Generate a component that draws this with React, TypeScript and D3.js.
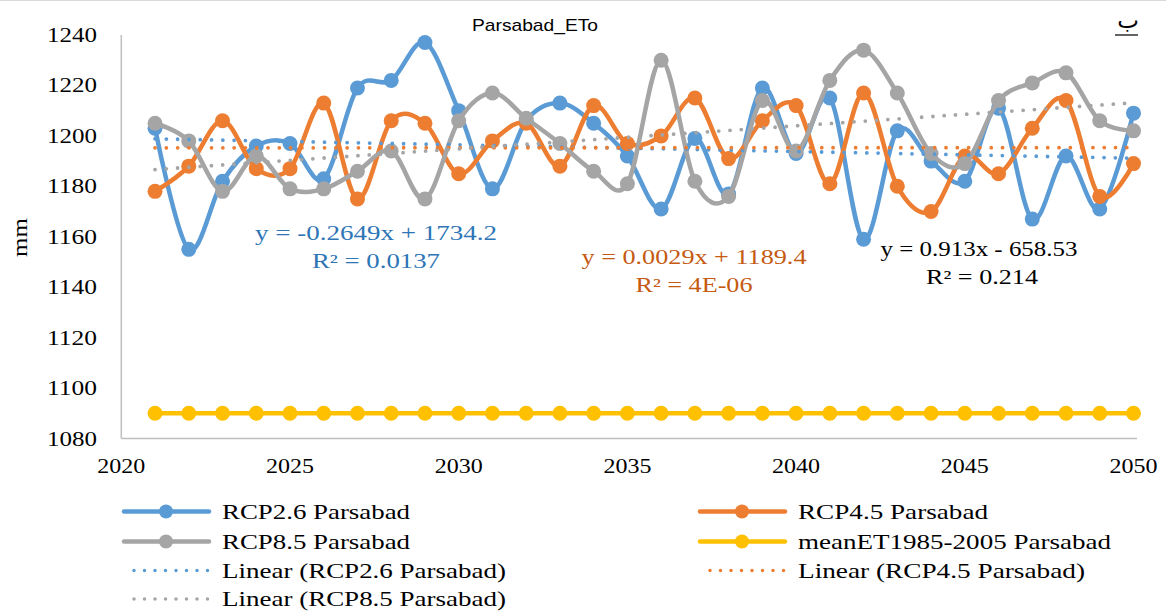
import * as d3 from "d3";

const years = d3.range(2021, 2051);

const rcp26 = [1203, 1155, 1182, 1196, 1197, 1183, 1219, 1222, 1237, 1210, 1179, 1206, 1213, 1205, 1192,
  1171, 1199, 1177, 1219, 1193, 1215, 1159, 1202, 1190, 1182, 1211, 1167, 1192, 1171, 1209];
const rcp45 = [1178, 1188, 1206, 1187, 1187, 1213, 1175, 1206, 1205, 1185, 1198, 1205, 1188, 1212, 1197,
  1200, 1215, 1191, 1206, 1212, 1181, 1217, 1180, 1170, 1192, 1185, 1203, 1214, 1176, 1189];
const rcp85 = [1205, 1198, 1178, 1192, 1179, 1179, 1186, 1194, 1175, 1206, 1217, 1207, 1197, 1186, 1181,
  1230, 1182, 1176, 1214, 1194, 1222, 1234, 1217, 1193, 1189, 1214, 1221, 1225, 1206, 1202];
const meanET = years.map(() => 1090);

// trendline coefficients as printed on the chart
const trend26 = { slope: -0.2649, icept: 1734.2 };
const trend45 = { slope: 0.0029, icept: 1189.4 };
const trend85 = { slope: 0.913, icept: -658.53 };

const yTicks = [1080, 1100, 1120, 1140, 1160, 1180, 1200, 1220, 1240];
const xTicks = [2020, 2025, 2030, 2035, 2040, 2045, 2050];

const BLUE = "#5B9BD5";
const ORANGE = "#ED7D31";
const GRAY = "#A5A5A5";
const YELLOW = "#FFC000";

const serif = "Liberation Serif, Times New Roman, serif";

export default function App() {
  const W = 1166, H = 613;
  const x = d3.scaleLinear().domain([2020, 2050]).range([121.3, 1133.5]);
  const y = d3.scaleLinear().domain([1080, 1240]).range([438.5, 35]);

  const smooth = d3.line<number>()
    .x((_, i) => x(years[i]))
    .y(d => y(d))
    .curve(d3.curveCatmullRom.alpha(0));

  const series = [
    { vals: rcp26, color: BLUE },
    { vals: rcp45, color: ORANGE },
    { vals: rcp85, color: GRAY },
    { vals: meanET, color: YELLOW },
  ];

  const trends = [
    { t: trend26, color: BLUE },
    { t: trend45, color: ORANGE },
    { t: trend85, color: GRAY },
  ];

  const legend = [
    { label: "RCP2.6 Parsabad", color: BLUE, dot: false, lx: 124, ly: 511.5, tw: 188 },
    { label: "RCP4.5 Parsabad", color: ORANGE, dot: false, lx: 700, ly: 511.5, tw: 190 },
    { label: "RCP8.5 Parsabad", color: GRAY, dot: false, lx: 124, ly: 541.5, tw: 188 },
    { label: "meanET1985-2005 Parsabad", color: YELLOW, dot: false, lx: 700, ly: 541.5, tw: 313 },
    { label: "Linear (RCP2.6 Parsabad)", color: BLUE, dot: true, lx: 124, ly: 570.5, tw: 284 },
    { label: "Linear (RCP4.5 Parsabad)", color: ORANGE, dot: true, lx: 700, ly: 570.5, tw: 287 },
    { label: "Linear (RCP8.5 Parsabad)", color: GRAY, dot: true, lx: 124, ly: 599, tw: 284 },
  ];

  const eqs = [
    { s: "y = -0.2649x + 1734.2", cx: 376, by: 239.5, tw: 242, fill: "#2E75B6" },
    { s: "R² = 0.0137", cx: 376, by: 268, tw: 128, fill: "#2E75B6" },
    { s: "y = 0.0029x + 1189.4", cx: 694, by: 263.5, tw: 225, fill: "#C55A11" },
    { s: "R² = 4E-06", cx: 694, by: 291.5, tw: 117, fill: "#C55A11" },
    { s: "y = 0.913x - 658.53", cx: 979, by: 255.5, tw: 197, fill: "#000" },
    { s: "R² = 0.214", cx: 982, by: 283.5, tw: 112, fill: "#000" },
  ];

  return (
    <div>
      <style>{`body{margin:0;}`}</style>
      <svg width={W} height={H} style={{ display: "block", background: "#fff" }} fontFamily={serif}>
        <line x1={0} x2={W} y1={0.5} y2={0.5} stroke="#d9d9d9" />

        <text x={472} y={31} fontFamily="Liberation Sans, Arial, sans-serif" fontSize={17}
          textLength={126} lengthAdjust="spacingAndGlyphs">
          Parsabad_ETo
        </text>
        <text x={1128} y={28} textAnchor="middle" fontFamily="DejaVu Sans, sans-serif" fontSize={23}>ب</text>
        <line x1={1115} x2={1138} y1={35} y2={35} stroke="#222" strokeWidth={1.4} />

        {/* axes */}
        <line x1={121.3} x2={121.3} y1={35} y2={438.5} stroke="#bfbfbf" strokeWidth={1.5} />
        <line x1={121.3} x2={1137} y1={438.5} y2={438.5} stroke="#bfbfbf" strokeWidth={1.5} />

        {yTicks.map(t => (
          <text key={t} x={47} y={y(t) + 7} fontFamily={serif} fontSize={20}
            textLength={50} lengthAdjust="spacingAndGlyphs">{t}</text>
        ))}
        {xTicks.map(t => (
          <text key={t} x={x(t) - 24} y={473} fontFamily={serif} fontSize={20}
            textLength={48} lengthAdjust="spacingAndGlyphs">{t}</text>
        ))}
        <text transform="translate(27,257) rotate(-90)" fontFamily={serif} fontSize={21}
          textLength={39} lengthAdjust="spacingAndGlyphs">mm</text>

        {series.map((s, si) => (
          <g key={si}>
            <path d={smooth(s.vals) ?? ""} fill="none" stroke={s.color} strokeWidth={4.5} />
            {s.vals.map((v, i) => (
              <circle key={i} cx={x(years[i])} cy={y(v)} r={7.5} fill={s.color} />
            ))}
          </g>
        ))}

        {trends.map((tr, i) => (
          <line key={i}
            x1={x(2021)} x2={x(2050)}
            y1={y(tr.t.slope * 2021 + tr.t.icept)} y2={y(tr.t.slope * 2050 + tr.t.icept)}
            stroke={tr.color} strokeWidth={3.8} strokeLinecap="round" strokeDasharray="0 11.3" />
        ))}

        {/* trendline equations */}
        {eqs.map((e, i) => (
          <text key={i} x={e.cx - e.tw / 2} y={e.by} fill={e.fill} fontFamily={serif} fontSize={20}
            textLength={e.tw} lengthAdjust="spacingAndGlyphs">{e.s}</text>
        ))}

        {/* legend */}
        {legend.map((l, i) => (
          <g key={i}>
            {l.dot ? (
              <line x1={l.lx + 10} x2={l.lx + 84} y1={l.ly} y2={l.ly} stroke={l.color} strokeWidth={3.5}
                strokeLinecap="round" strokeDasharray="0 10.5" />
            ) : (
              <g>
                <line x1={l.lx} x2={l.lx + 85} y1={l.ly} y2={l.ly} stroke={l.color} strokeWidth={4.5} strokeLinecap="round" />
                <circle cx={l.lx + 42} cy={l.ly} r={7} fill={l.color} />
              </g>
            )}
            <text x={l.lx + 98} y={l.ly + 7} fontFamily={serif} fontSize={21}
              textLength={l.tw} lengthAdjust="spacingAndGlyphs">{l.label}</text>
          </g>
        ))}
      </svg>
    </div>
  );
}
